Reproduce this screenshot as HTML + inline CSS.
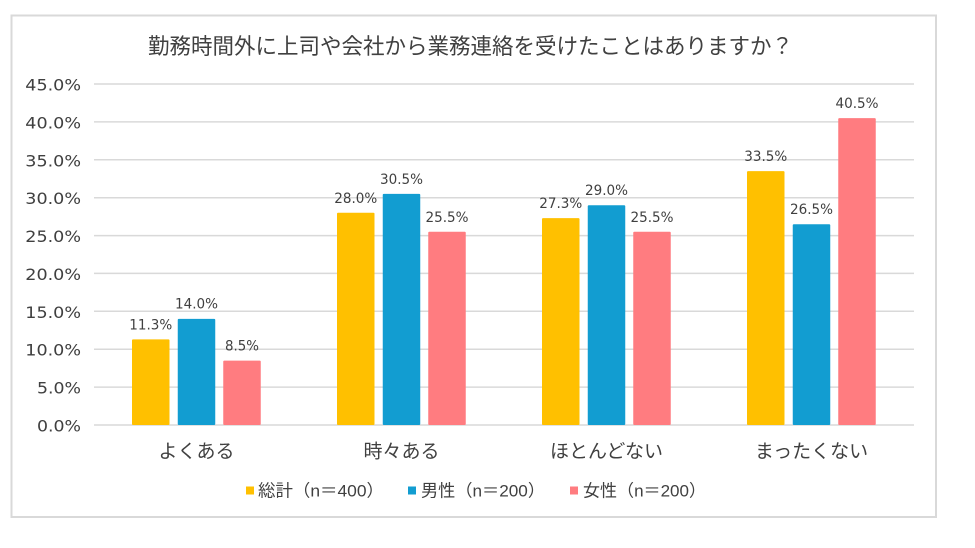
<!DOCTYPE html>
<html><head><meta charset="utf-8"><style>
html,body{margin:0;padding:0;background:#fff;}
svg{display:block;}
text{font-family:"DejaVu Sans","Liberation Sans","Noto Sans CJK JP",sans-serif;fill:#404040;}
.jp{font-family:"Liberation Sans","Noto Sans CJK JP",sans-serif;}
</style></head><body>
<svg width="975" height="548" viewBox="0 0 975 548" xmlns="http://www.w3.org/2000/svg">
<rect x="0" y="0" width="975" height="548" fill="#fff"/>
<rect x="11.5" y="15.5" width="924.5" height="501.5" fill="#fff" stroke="#d9d9d9" stroke-width="2"/>
<text class="jp" x="148" y="54" font-size="22" textLength="645" lengthAdjust="spacingAndGlyphs">勤務時間外に上司や会社から業務連絡を受けたことはありますか？</text>
<g stroke="#d9d9d9" stroke-width="1.5">
<line x1="94" x2="914" y1="84" y2="84"/>
<line x1="94" x2="914" y1="121.9" y2="121.9"/>
<line x1="94" x2="914" y1="159.8" y2="159.8"/>
<line x1="94" x2="914" y1="197.7" y2="197.7"/>
<line x1="94" x2="914" y1="235.6" y2="235.6"/>
<line x1="94" x2="914" y1="273.4" y2="273.4"/>
<line x1="94" x2="914" y1="311.3" y2="311.3"/>
<line x1="94" x2="914" y1="349.2" y2="349.2"/>
<line x1="94" x2="914" y1="387.1" y2="387.1"/>
<line x1="94" x2="914" y1="425" y2="425"/>
</g>
<g font-size="16" text-anchor="end">
<text x="81" y="90.5" textLength="55.7" lengthAdjust="spacingAndGlyphs">45.0%</text>
<text x="81" y="128.4" textLength="55.7" lengthAdjust="spacingAndGlyphs">40.0%</text>
<text x="81" y="166.3" textLength="55.7" lengthAdjust="spacingAndGlyphs">35.0%</text>
<text x="81" y="204.2" textLength="55.7" lengthAdjust="spacingAndGlyphs">30.0%</text>
<text x="81" y="242.1" textLength="55.7" lengthAdjust="spacingAndGlyphs">25.0%</text>
<text x="81" y="279.9" textLength="55.7" lengthAdjust="spacingAndGlyphs">20.0%</text>
<text x="81" y="317.8" textLength="55.7" lengthAdjust="spacingAndGlyphs">15.0%</text>
<text x="81" y="355.7" textLength="55.7" lengthAdjust="spacingAndGlyphs">10.0%</text>
<text x="81" y="393.6" textLength="44" lengthAdjust="spacingAndGlyphs">5.0%</text>
<text x="81" y="431.5" textLength="44" lengthAdjust="spacingAndGlyphs">0.0%</text>
</g>
<g>
<rect x="132" y="339.4" width="37.5" height="85.6" rx="1" fill="#FFC000"/>
<rect x="177.75" y="318.9" width="37.5" height="106.1" rx="1" fill="#129DD1"/>
<rect x="223.25" y="360.6" width="37.5" height="64.4" rx="1" fill="#FF7C80"/>

<rect x="337" y="212.8" width="37.5" height="212.2" rx="1" fill="#FFC000"/>
<rect x="382.75" y="193.9" width="37.5" height="231.1" rx="1" fill="#129DD1"/>
<rect x="428.25" y="231.8" width="37.5" height="193.2" rx="1" fill="#FF7C80"/>

<rect x="542" y="218.1" width="37.5" height="206.9" rx="1" fill="#FFC000"/>
<rect x="587.75" y="205.2" width="37.5" height="219.8" rx="1" fill="#129DD1"/>
<rect x="633.25" y="231.8" width="37.5" height="193.2" rx="1" fill="#FF7C80"/>

<rect x="747" y="171.1" width="37.5" height="253.9" rx="1" fill="#FFC000"/>
<rect x="792.75" y="224.2" width="37.5" height="200.8" rx="1" fill="#129DD1"/>
<rect x="838.25" y="118.1" width="37.5" height="306.9" rx="1" fill="#FF7C80"/>
</g>
<g font-size="14" text-anchor="middle">
<text x="150.75" y="329.4" textLength="43" lengthAdjust="spacingAndGlyphs">11.3%</text>
<text x="196.5" y="308.4" textLength="43" lengthAdjust="spacingAndGlyphs">14.0%</text>
<text x="242" y="350.6" textLength="34" lengthAdjust="spacingAndGlyphs">8.5%</text>

<text x="355.75" y="202.8" textLength="43" lengthAdjust="spacingAndGlyphs">28.0%</text>
<text x="401.5" y="183.9" textLength="43" lengthAdjust="spacingAndGlyphs">30.5%</text>
<text x="447" y="221.8" textLength="43" lengthAdjust="spacingAndGlyphs">25.5%</text>

<text x="560.75" y="208.1" textLength="43" lengthAdjust="spacingAndGlyphs">27.3%</text>
<text x="606.5" y="195.2" textLength="43" lengthAdjust="spacingAndGlyphs">29.0%</text>
<text x="652" y="221.8" textLength="43" lengthAdjust="spacingAndGlyphs">25.5%</text>

<text x="765.75" y="161.1" textLength="43" lengthAdjust="spacingAndGlyphs">33.5%</text>
<text x="811.5" y="214.2" textLength="43" lengthAdjust="spacingAndGlyphs">26.5%</text>
<text x="857" y="108.1" textLength="43" lengthAdjust="spacingAndGlyphs">40.5%</text>
</g>
<g class="jp" font-size="19" text-anchor="middle">
<text class="jp" x="196.5" y="457.5">よくある</text>
<text class="jp" x="401.5" y="457.5">時々ある</text>
<text class="jp" x="606.5" y="457.5">ほとんどない</text>
<text class="jp" x="811.5" y="457.5">まったくない</text>
</g>
<rect x="246" y="486.5" width="8" height="8" fill="#FFC000"/>
<rect x="408" y="486.5" width="8" height="8" fill="#129DD1"/>
<rect x="570" y="486.5" width="8" height="8" fill="#FF7C80"/>
<text class="jp" x="258" y="496.5" font-size="17" textLength="126" lengthAdjust="spacingAndGlyphs">総計（n＝400）</text>
<text class="jp" x="421" y="496.5" font-size="17" textLength="124" lengthAdjust="spacingAndGlyphs">男性（n＝200）</text>
<text class="jp" x="583" y="496.5" font-size="17" textLength="123" lengthAdjust="spacingAndGlyphs">女性（n＝200）</text>
</svg>
</body></html>
